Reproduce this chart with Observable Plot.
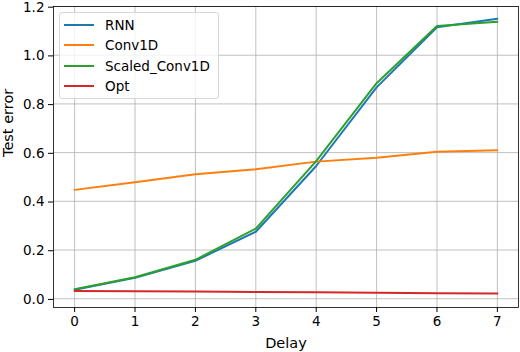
<!DOCTYPE html>
<html><head><meta charset="utf-8">
<script src="https://cdn.jsdelivr.net/npm/d3@7"></script>
<script src="https://cdn.jsdelivr.net/npm/@observablehq/plot@0.6"></script>
<style>
body{margin:0;background:#fff;font-family:"DejaVu Sans",sans-serif;}
#wrap{position:relative;width:520px;height:352px;}
#legend{position:absolute;left:59px;top:12px;width:160px;height:87px;box-sizing:border-box;border:1px solid #d6d6d6;border-radius:3px;background:rgba(255,255,255,0.8);font:13.5px "DejaVu Sans",sans-serif;color:#000;}
.row{position:absolute;left:4px;height:16px;display:flex;align-items:center;}
.sw{width:30px;height:2px;margin-right:11px;}
</style></head>
<body><div id="wrap"><div id="legend"></div></div>
<script>
const delays = [0,1,2,3,4,5,6,7];
const seriesNames = ["RNN","Conv1D","Scaled_Conv1D","Opt"];
const rnn = [0.037,0.086,0.156,0.275,0.545,0.868,1.115,1.150];
const conv1d = [0.447,0.478,0.511,0.532,0.563,0.579,0.604,0.610];
const scaledConv1d = [0.039,0.088,0.160,0.288,0.565,0.885,1.120,1.137];
const opt = [0.032,0.031,0.030,0.028,0.027,0.025,0.023,0.022];
const colors = ["#1f77b4","#ff7f0e","#2ca02c","#d62728"];
const xTicks = [0,1,2,3,4,5,6,7];
const yTicks = [0,0.2,0.4,0.6,0.8,1.0,1.2];

const values = [rnn, conv1d, scaledConv1d, opt];
const data = [];
seriesNames.forEach((s,i)=>delays.forEach((d,j)=>data.push({series:s,delay:d,err:values[i][j]})));

const chart = Plot.plot({
  width:520, height:352,
  marginLeft:53, marginRight:2, marginTop:6, marginBottom:45,
  style:{fontFamily:"DejaVu Sans, sans-serif", fontSize:"13.5px", background:"#fff", color:"#000"},
  x:{domain:[-0.35,7.35], label:null},
  y:{domain:[-0.036,1.2], label:null},
  color:{domain:seriesNames, range:colors},
  marks:[
    Plot.gridX(xTicks,{stroke:"#b0b0b0", strokeOpacity:1, strokeWidth:0.8}),
    Plot.gridY(yTicks,{stroke:"#b0b0b0", strokeOpacity:1, strokeWidth:0.8}),
    Plot.line(data,{x:"delay", y:"err", z:"series", stroke:"series", strokeWidth:2}),
    Plot.frame({stroke:"#000", strokeWidth:0.8}),
    Plot.axisX({ticks:xTicks, tickSize:5, tickPadding:4, tickFormat:d3.format("d"), label:null, fontSize:13.5}),
    Plot.axisY({ticks:yTicks, tickSize:5, tickPadding:4, tickFormat:d3.format(".1f"), label:null, fontSize:13.5, dy:0.7}),
    Plot.text(["Delay"],{frameAnchor:"bottom", dy:36, text:d=>d, fontSize:14.5, lineAnchor:"middle"}),
    Plot.text(["Test error"],{frameAnchor:"left", dx:-45, text:d=>d, fontSize:14.5, rotate:-90, lineAnchor:"middle"})
  ]
});
document.getElementById("wrap").prepend(chart);
const lg = document.getElementById("legend");
seriesNames.forEach((s,i)=>{
  const r = document.createElement("div");
  r.className="row"; r.style.top=(4+i*20.4)+"px";
  r.innerHTML = `<span class="sw" style="background:${colors[i]}"></span><span>${s}</span>`;
  lg.appendChild(r);
});
</script></body></html>
